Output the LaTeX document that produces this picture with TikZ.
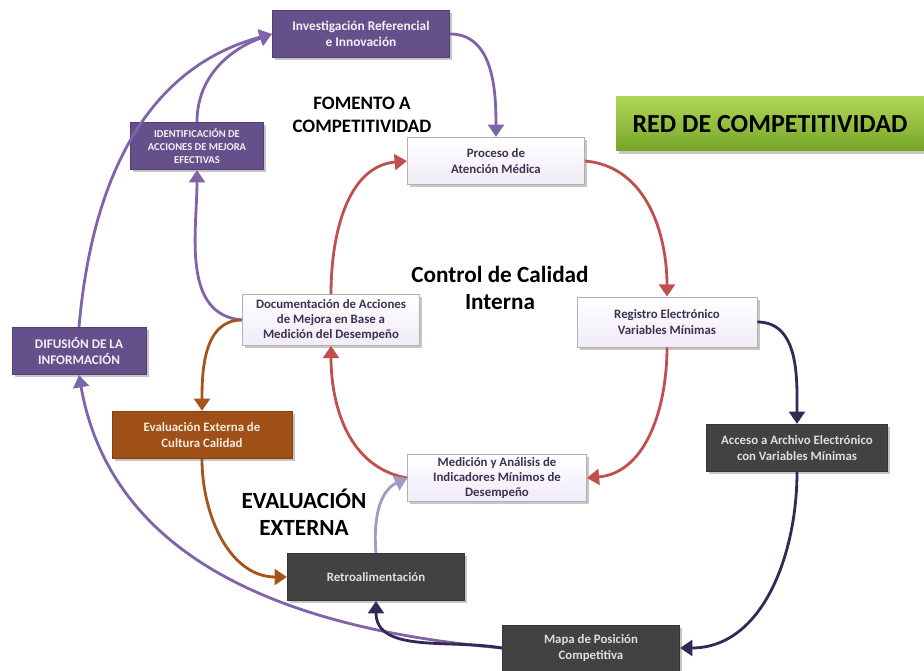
\documentclass[tikz,border=0pt]{standalone}
\usepackage{fontspec}
\setmainfont{Carlito}
\usetikzlibrary{arrows.meta,shadows}

\definecolor{boxpurple}{RGB}{102,80,140}
\definecolor{boxlight}{RGB}{240,235,248}
\definecolor{boxgrey}{RGB}{66,66,66}
\definecolor{boxorange}{RGB}{160,80,22}
\definecolor{boxgreenA}{RGB}{176,214,86}
\definecolor{boxgreenB}{RGB}{118,166,40}
\definecolor{txtpurple}{RGB}{63,49,81}
\definecolor{linered}{RGB}{192,80,77}
\definecolor{linepurple}{RGB}{128,100,170}
\definecolor{linelight}{RGB}{165,152,195}
\definecolor{linenavy}{RGB}{52,40,84}
\definecolor{lineorange}{RGB}{166,84,28}

\tikzset{
  caja/.style={rectangle, minimum width=3.55cm, minimum height=0.95cm, align=center,
    font=\fontsize{7.3}{8.6}\selectfont\bfseries, inner sep=1pt,
    drop shadow={opacity=0.45, shadow xshift=1.5pt, shadow yshift=-1.5pt}},
  cajamorada/.style={caja, fill=boxpurple, draw=boxpurple!80!black, text=white!92!boxpurple},
  cajaclara/.style={caja, top color=white, bottom color=boxlight, draw=gray!60, text=txtpurple},
  cajagris/.style={caja, fill=boxgrey, draw=boxgrey!80!black, text=gray!25},
  cajanaranja/.style={caja, fill=boxorange, draw=boxorange!80!black, text=white!88!boxorange},
  titulo/.style={align=center, font=\fontsize{10.5}{12.5}\selectfont\bfseries},
  flecha/.style={line width=1.6pt, -{Triangle[length=7pt,width=9pt]}}
}

\begin{document}
\begin{tikzpicture}[x=0.02cm, y=-0.02cm]
\useasboundingbox (0,0) rectangle (924,671);

\node[cajamorada, font=\fontsize{7.6}{9}\selectfont\bfseries] (investigacion) at (361,34) {Investigación Referencial\\e Innovación};
\node[cajamorada, minimum width=2.66cm, font=\fontsize{6}{7.3}\selectfont\bfseries] (identificacion) at (197,146) {IDENTIFICACIÓN DE\\ACCIONES DE MEJORA\\EFECTIVAS};
\node[cajaclara] (proceso) at (496,161) {Proceso de\\Atención Médica};
\node[rectangle, minimum width=6.16cm, minimum height=1.08cm, top color=boxgreenA, bottom color=boxgreenB,
  font=\fontsize{14.8}{17}\selectfont\bfseries,
  drop shadow={opacity=0.45, shadow xshift=1.5pt, shadow yshift=-1.5pt}] (red) at (770,124) {RED DE COMPETITIVIDAD};
\node[cajaclara, minimum height=1.02cm] (documentacion) at (331,320) {Documentación de Acciones\\de Mejora en Base a\\Medición del Desempeño};
\node[cajaclara, minimum width=3.6cm, minimum height=1cm] (registro) at (667,322) {Registro Electrónico\\Variables Mínimas};
\node[cajamorada, minimum width=2.68cm, font=\fontsize{7.5}{9}\selectfont\bfseries] (difusion) at (79,351) {DIFUSIÓN DE LA\\INFORMACIÓN};
\node[cajanaranja, minimum width=3.6cm] (evaluacion) at (202,435) {Evaluación Externa de\\Cultura Calidad};
\node[cajaclara, minimum width=3.58cm] (medicion) at (497,478) {Medición y Análisis de\\Indicadores Mínimos de\\Desempeño};
\node[cajagris, minimum width=3.62cm] (acceso) at (797,448) {Acceso a Archivo Electrónico\\con Variables Mínimas};
\node[cajagris] (retro) at (376,577) {Retroalimentación};
\node[cajagris, minimum height=0.92cm] (mapa) at (591,648) {Mapa de Posición\\Competitiva};

\node[titulo, font=\fontsize{10.8}{13}\selectfont\bfseries] (fomento) at (362,115) {FOMENTO A\\COMPETITIVIDAD};
\node[titulo, font=\fontsize{13.2}{15.5}\selectfont\bfseries] (control) at (500,288) {Control de Calidad\\Interna};
\node[titulo, font=\fontsize{13.2}{15.5}\selectfont\bfseries] (externa) at (304,512) {EVALUACIÓN\\EXTERNA};

\draw[flecha, linered] (proceso.east) to[out=-5, in=90] (registro.north);
\draw[flecha, linered] (registro.south) to[out=-90, in=5] (medicion.east);
\draw[flecha, linered] (medicion.west) to[out=170, in=-90] (documentacion.south);
\draw[flecha, linered] (documentacion.north) to[out=90, in=185] (proceso.west);

\draw[flecha, linepurple] (investigacion.east) to[out=0, in=90] (proceso.north);
\draw[flecha, linepurple] (documentacion.west) to[out=175, in=-90] (identificacion.south);
\draw[flecha, linepurple] (difusion.north) to[out=85, in=195] (investigacion.west);
\draw[flecha, linepurple] (identificacion.north) to[out=90, in=200] (investigacion.west);
\draw[flecha, linepurple] (mapa.west) to[out=175, in=-80] (difusion.south);
\draw[flecha, linelight] (retro.north) to[out=95, in=205] (medicion.west);
\draw[flecha, linenavy] (mapa.west) to[out=170, in=-90] (retro.south);

\draw[flecha, linenavy] (registro.east) to[out=0, in=90] (acceso.north);
\draw[flecha, linenavy] (acceso.south) to[out=-90, in=0] (mapa.east);

\draw[flecha, lineorange] (documentacion.west) to[out=180, in=90] (evaluacion.north);
\draw[flecha, lineorange] (evaluacion.south) to[out=-90, in=180] (retro.west);
\end{tikzpicture}
\end{document}
